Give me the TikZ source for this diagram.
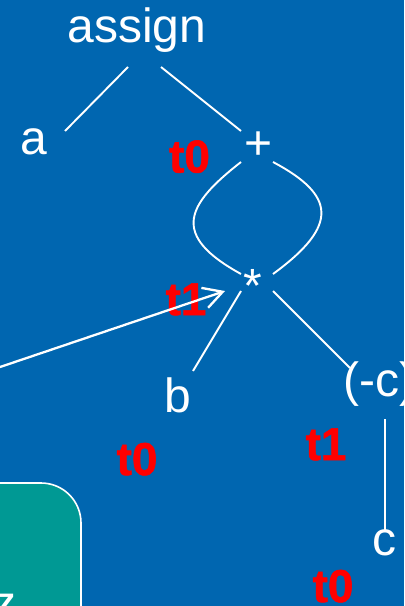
\documentclass[tikz,border=0pt]{standalone}
\usepackage{fontspec}
\setmainfont{Liberation Sans}
\newfontfamily\heavyfont[FakeBold=1.2]{Liberation Sans Bold}
\usetikzlibrary{arrows.meta}
\definecolor{slideblue}{RGB}{0,102,176}
\definecolor{boxteal}{RGB}{0,153,148}
\begin{document}
\begin{tikzpicture}[x=1bp,y=-1bp,
  lbl/.style={text=white,font=\fontsize{48bp}{52bp}\selectfont,inner sep=0pt,anchor=base},
  reg/.style={text=red,font=\heavyfont\fontsize{46bp}{50bp}\selectfont,inner sep=0pt,anchor=base},
  treeline/.style={white,line width=1.9bp},
  pointer/.style={white,line width=2.3bp,-{Straight Barb[length=19bp,width=21bp]}},
  panel/.style={draw=white,line width=1.6bp,fill=boxteal,rounded corners=40bp}]
\useasboundingbox (0,0) rectangle (404,606);
\fill[slideblue] (0,0) rectangle (404,606);
\begin{scope}
\clip (0,0) rectangle (404,606);
\draw[panel] (-20,483) -- (81,483) -- (81,660) -- (-20,660);
\node[lbl,anchor=base east] (z) at (17,619) {z};

\node[lbl] (assign) at (137,43) {assign};
\node[lbl] (a) at (33.5,155) {a};
\node[lbl] (plus) at (258.5,160) {+};
\node[lbl] (times) at (253,302) {*};
\node[lbl] (b) at (177.5,412) {b};
\node[lbl,anchor=base west] (negc) at (343,396) {(-c)};
\node[lbl] (c) at (384.5,555) {c};

\node[reg] (t0a) at (189.5,172.5) {t0};
\node[reg] (t1a) at (186,315) {t1};
\node[reg] (t0b) at (137,475) {t0};
\node[reg] (t1b) at (326,460) {t1};
\node[reg] (t0c) at (333,602) {t0};

\coordinate (assign-l) at (128,67);
\coordinate (a-r) at (65,131);
\coordinate (assign-r) at (161,67);
\coordinate (plus-l) at (241,131);
\coordinate (plus-bl) at (241,162);
\coordinate (plus-br) at (273,162);
\coordinate (times-tl) at (241,274);
\coordinate (times-tr) at (273,274);
\coordinate (times-bl) at (241,291);
\coordinate (times-br) at (273,291);
\coordinate (b-t) at (193,371);
\coordinate (negc-t) at (350,368);
\coordinate (negc-b) at (385,419);
\coordinate (c-t) at (385,530);
\coordinate (ptr-start) at (-10,370.4);
\coordinate (ptr-tip) at (225,291);

\draw[treeline] (assign-l) -- (a-r);
\draw[treeline] (assign-r) -- (plus-l);
\draw[treeline] (plus-bl) .. controls (186,205) and (170,235) .. (times-tl);
\draw[treeline] (plus-br) .. controls (335,195) and (340,225) .. (times-tr);
\draw[treeline] (times-bl) -- (b-t);
\draw[treeline] (times-br) -- (negc-t);
\draw[treeline] (negc-b) -- (c-t);

\draw[pointer] (ptr-start) -- (ptr-tip);
\end{scope}
\end{tikzpicture}
\end{document}
